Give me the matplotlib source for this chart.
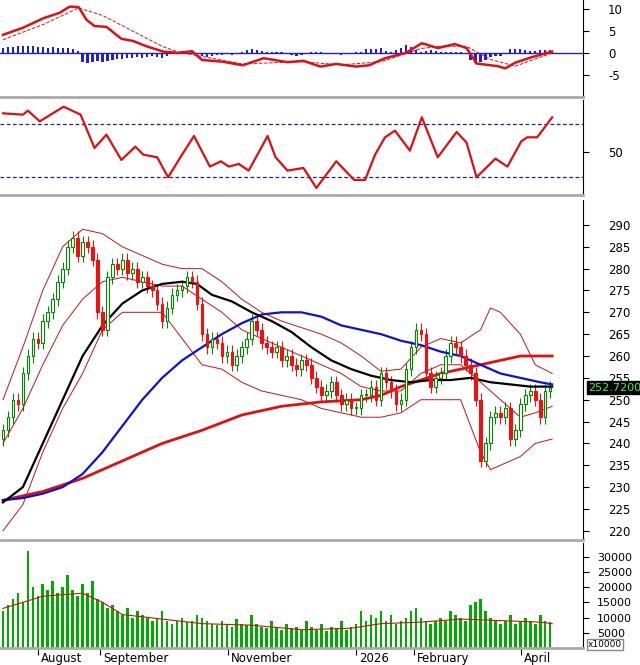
import matplotlib
matplotlib.use("Agg")
import matplotlib.pyplot as plt
import numpy as np
from matplotlib.patches import Rectangle

plt.rcParams["axes.unicode_minus"] = False

# ---- data (x = bar position) ----
closes = [243, 246, 250, 249, 256, 260, 264, 263, 268, 270, 273, 277, 280, 285, 287, 283, 286, 285, 282, 270,
          266, 278, 281, 280, 282, 279, 280, 277, 278, 276, 275, 272, 268, 271, 274, 275, 276, 278, 277, 272,
          265, 262, 264, 263, 260, 261, 258, 260, 262, 264, 268, 266, 263, 262, 261, 262, 259, 260, 258, 257,
          259, 258, 255, 253, 251, 252, 254, 251, 249, 250, 248, 248, 251, 251, 253, 250, 256, 254, 252, 249,
          250, 257, 262, 266, 265, 256, 253, 255, 256, 260, 263, 262, 260, 258, 256, 250, 236, 240, 246, 247,
          246, 248, 241, 243, 249, 251, 252, 250, 246, 252, 252.72]
volumes = [12000, 14000, 16000, 18000, 15000, 32000, 20000, 17000, 21000, 19000, 22000, 18000, 20000, 24000, 19000,
           17000, 21000, 18000, 22000, 16000, 15000, 13000, 14000, 12000, 11000, 13000, 10000, 12000, 11000, 10000,
           9000, 10000, 12000, 9000, 8000, 9000, 10000, 8500, 9000, 11000, 10000, 9000, 8000, 7500, 9000,
           8000, 7000, 9500, 8000, 7500, 11000, 8000, 7000, 6500, 9000, 7000, 6000, 8000, 6500, 7000,
           6000, 9000, 7000, 6000, 8000, 5500, 7000, 6500, 9000, 6000, 7000, 8000, 12000, 9000, 11000,
           10000, 12000, 9000, 11000, 8000, 9000, 10000, 12000, 13000, 10000, 9000, 8000, 9000, 10000, 9000,
           12000, 11000, 10000, 9000, 14000, 15000, 16000, 12000, 10000, 9000, 8000, 9000, 11000, 8000, 9000,
           10000, 9000, 8000, 11000, 9000, 8500]
vol_ma_x = [0, 40, 80, 100, 120, 160, 200, 250, 300, 350, 380, 420, 460, 500, 540, 552]
vol_ma = [13000, 17000, 18000, 15000, 11000, 9500, 8000, 7500, 6000, 6500, 8000, 8500, 9500, 9000, 8500, 8000]

ma_black_x = [0, 20, 40, 60, 80, 100, 120, 140, 160, 180, 195, 210, 230, 250, 270, 290, 310, 330, 350, 370, 390,
              410, 430, 450, 470, 490, 510, 530, 552]
ma_black = [226.5, 230, 240, 250, 260, 267, 272, 275, 276.5, 277, 276.5, 274, 272.5, 270, 268, 265.5, 262, 259,
            257, 255.5, 254.5, 254, 254.5, 254.5, 255, 254, 253.5, 253, 253]
ma_blue_x = [0, 20, 40, 60, 80, 100, 120, 140, 160, 180, 200, 220, 240, 260, 280, 300, 320, 340, 360, 380, 400,
             420, 440, 460, 480, 500, 520, 540, 552]
ma_blue = [227, 227.5, 228.5, 230, 233, 238, 244, 250, 255, 259, 262, 265, 267.5, 269.5, 270, 270, 269, 267,
           266, 265, 263.5, 262.5, 261, 260, 258, 256, 255, 254, 253.5]
ma_red_x = [0, 40, 80, 120, 160, 200, 240, 280, 320, 360, 380, 400, 420, 440, 460, 480, 500, 520, 552]
ma_red = [227, 229, 232, 236, 240, 243, 246.5, 248.5, 249.5, 250, 251, 253, 254.5, 256, 257, 258, 259, 260, 260]
bb_x = [0, 20, 40, 60, 80, 100, 120, 140, 160, 180, 200, 220, 240, 260, 280, 300, 320, 340, 360, 380, 400,
        420, 440, 460, 480, 490, 500, 520, 535, 552]
bb_up = [250, 262, 275, 285, 289, 288, 285, 283, 281, 280, 280, 277, 273, 270, 268, 266.5, 265, 263, 260, 256.5,
         257, 262, 264, 263, 266, 271, 270, 265, 258, 256]
bb_mid = [240, 248, 258, 267, 273, 277, 278, 277, 276, 276, 273, 270, 266, 264, 262, 260, 258, 256, 253, 252,
          252, 256, 258, 258, 254, 252, 250, 246, 247, 248.5]
bb_lo = [220, 226, 238, 248, 256, 266, 270, 270, 270, 264, 258, 257, 254, 252, 251, 250, 248, 247, 246, 246,
         247, 250, 250, 250, 238, 234, 235, 237, 240, 241]

macd_x = [0, 20, 41, 57, 67, 76, 84, 92, 104, 119, 131, 143, 161, 176, 190, 200, 221, 241, 262, 286, 302, 319,
          335, 355, 368, 384, 405, 421, 437, 454, 466, 476, 497, 505, 515, 531, 552]
macd = [4.1, 5.7, 7.9, 9.1, 10.5, 10.4, 7.5, 6.1, 5.9, 3.2, 2.7, 1.6, 0.3, 0, 0.4, -1.6, -2, -2.8, -1.2, -2.1,
        -1.8, -3.1, -2.5, -3.1, -2.8, -1.2, 0, 2.2, 1.1, 2, 1.1, -2.4, -3, -3.5, -2.2, -1, 0.3]
sig_x = [0, 41, 76, 100, 160, 176, 200, 240, 300, 340, 380, 420, 440, 466, 490, 515, 552]
sig = [3, 6.5, 10.2, 8.5, 1.5, 0.2, -0.8, -2.5, -2, -2.7, -2, 1, 1.5, 1.5, -1.5, -3, 0]
hist_x = list(range(0, 555, 5))
hist = [1.2, 1.3, 1.4, 1.5, 1.5, 1.6, 1.5, 1.4, 1.3, 1.2, 1.3, 1.2, 1.1, 1.0, 0.8, 0.5, -2.0, -2.2, -2.0, -1.8,
        -2.0, -1.9, -1.6, -1.4, -1.3, -1.2, -1.2, -1.0, -1.1, -1.0, -0.8, -1.0, -1.2, -0.6, -0.3, 0.2, 0.4, 0.2,
        0.1, -0.3, -0.8, -0.9, -0.7, -0.5, -0.4, -0.3, -0.4, -0.2, 0.3, 0.6, 0.8, 0.7, 0.4, 0.1, 0.1, 0.1, 0.1,
        -0.2, -0.5, -0.6, -0.4, -0.2, 0.1, 0.3, 0.1, 0.0, -0.1, -0.3, -0.4, -0.2, 0.0, 0.2, 0.3, 0.8, 0.9, 0.8,
        1.0, 0.5, 0.2, 0.6, 1.2, 1.8, 1.4, 0.6, 0.3, 0.5, 0.6, 0.5, 0.3, 0.2, 0.2, 0.1, 0.1, 0.0, -1.5, -2.2,
        -2.0, -1.5, -1.0, -0.8, -0.6, -0.3, 0.8, 0.9, 0.9, 0.7, 0.4, 0.5, 0.6, 0.7, 0.6]

rsi_x = [0, 20, 25, 37, 61, 78, 92, 104, 119, 133, 141, 155, 166, 180, 192, 208, 219, 227, 237, 247, 266, 274,
         286, 302, 315, 335, 353, 364, 374, 384, 394, 409, 421, 437, 456, 466, 476, 495, 507, 521, 527, 537, 552]
rsi = [79, 78, 81, 73, 84, 78, 53, 63, 44, 54, 48, 46, 31, 48, 62, 39, 43, 39, 41, 36, 62, 46, 36, 38, 23, 43,
       29, 29, 48, 61, 66, 51, 76, 46, 65, 57, 31, 45, 39, 58, 61, 61, 76]

month_names = ["August", "September", "November", "2026", "February", "April"]
month_ticks = [35, 98, 226, 355, 413, 521]

# ---- figure ----
fig = plt.figure(figsize=(6.4, 6.65), dpi=100, facecolor="white")
W = 583 / 640


def panel(top, bottom):
    return fig.add_axes([0, 1 - bottom / 665, W, (bottom - top) / 665])


ax_m = panel(0, 97)
ax_r = panel(100, 195)
ax_p = panel(200, 540)
ax_v = panel(543, 648)

for ax in (ax_m, ax_r, ax_p, ax_v):
    ax.set_xlim(-3, 583)
    ax.yaxis.tick_right()
    ax.tick_params(axis="y", labelsize=8.5, length=4, direction="out", pad=14)
    ax.tick_params(axis="x", length=0, labelbottom=False)
    for s in ("top", "left"):
        ax.spines[s].set_visible(False)
    ax.spines["bottom"].set_color("#aaaaaa")
    ax.spines["bottom"].set_linewidth(2)

xs = np.arange(len(closes)) * 5.0
opens = [241] + closes[:-1]

# MACD
ax_m.bar(hist_x, hist, width=2.2, color="#2020d0")
ax_m.axhline(0, color="#2020d0", lw=1)
ax_m.plot(macd_x, macd, color="#dd1111", lw=1.8)
ax_m.plot(sig_x, sig, color="#dd1111", lw=0.7, ls="--")
ax_m.set_ylim(-10, 12)
ax_m.set_yticks([10, 5, 0, -5])

# RSI
ax_r.axhline(71, color="#2020a0", lw=0.9, ls=(0, (3, 2)))
ax_r.axhline(31, color="#2020a0", lw=0.9, ls=(0, (3, 2)))
ax_r.plot(rsi_x, rsi, color="black", lw=0.6, ls="--")
ax_r.plot(rsi_x, rsi, color="#dd1111", lw=1.6)
ax_r.set_ylim(17.7, 89)
ax_r.set_yticks([50])

# price
for x, o, c in zip(xs, opens, closes):
    up = c >= o
    col = "#008800" if up else "#ee1111"
    lo, hi = min(o, c), max(o, c)
    ax_p.vlines(x, lo - 1.5, hi + 1.5, color=col, lw=0.8)
    ax_p.add_patch(Rectangle((x - 1.3, lo), 2.6, max(hi - lo, 0.3), facecolor="white" if up else col,
                             edgecolor=col, lw=0.8, zorder=3))
ax_p.plot(bb_x, bb_up, color="#cc1111", lw=0.7)
ax_p.plot(bb_x, bb_mid, color="#cc1111", lw=0.7)
ax_p.plot(bb_x, bb_lo, color="#cc1111", lw=0.7)
ax_p.plot(ma_red_x, ma_red, color="#e01010", lw=2)
ax_p.plot(ma_blue_x, ma_blue, color="#1010d0", lw=1.6)
ax_p.plot(ma_black_x, ma_black, color="black", lw=1.6)
ax_p.set_ylim(217.9, 295.7)
ax_p.set_yticks(range(220, 291, 5))
ax_p.text(588, closes[-1], f"{closes[-1]:.4f}", color="#33ff33", fontsize=8, va="center", ha="left",
          transform=ax_p.transData, clip_on=False, zorder=10,
          bbox=dict(boxstyle="square,pad=0.12", facecolor="black", edgecolor="black"))

# volume
ax_v.bar(xs, volumes, width=2.6, color="#00aa00")
ax_v.plot(vol_ma_x, vol_ma, color="#cc1111", lw=0.8)
ax_v.set_ylim(0, 34500)
ax_v.set_yticks([5000, 10000, 15000, 20000, 25000, 30000])
ax_v.tick_params(axis="y", labelsize=8, pad=6)
ax_v.text(588, 1200, "x10000", fontsize=6.5, ha="left", va="center", clip_on=False, zorder=10,
          bbox=dict(boxstyle="square,pad=0.1", facecolor="white", edgecolor="#888888"))
ax_v.set_xticks(month_ticks)
ax_v.tick_params(axis="x", length=5, labelbottom=False)
for t, name in zip(month_ticks, month_names):
    ax_v.text(t + 3, -0.035, name, transform=ax_v.get_xaxis_transform(), fontsize=8.5, ha="left", va="top")

fig.savefig("out.png", dpi=100, facecolor="white")
